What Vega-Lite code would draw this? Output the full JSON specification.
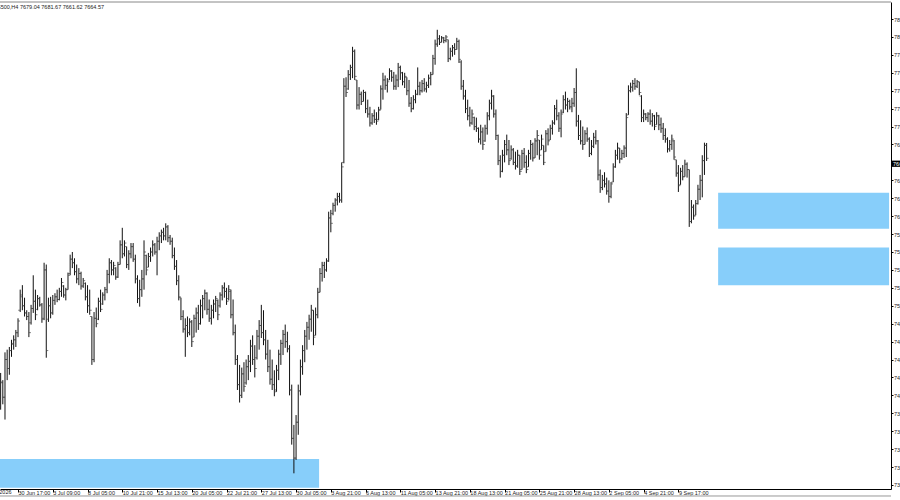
{
"$schema":"https://vega.github.io/schema/vega-lite/v6.json",
"width":891,"height":487,
"autosize":{"type":"none"},
"padding":{"left":0,"top":2,"right":9,"bottom":11},
"background":"white",
"title":{"text":"US500,H4 7679.04 7681.67 7661.62 7664.57","anchor":"start","frame":"group","orient":"top","offset":-9,"dx":-7,"fontSize":5.5,"fontWeight":"normal","color":"#222","font":"Liberation Sans"},
"config":{"view":{"stroke":null},"font":"Liberation Sans",
 "axis":{"labelOverlap":false,"labelBound":false,"labelFlush":false,"grid":false,"title":null,"domainColor":"#000","domainWidth":1,"tickColor":"#000","tickSize":3,"labelFontSize":5.5,"labelColor":"#222","labelFont":"Liberation Sans"}},
"datasets":{
"zones":[{"x1":-0.3,"x2":146.6,"y1":7329,"y2":7297},{"x1":330.3,"x2":409.0,"y1":7626,"y2":7586},{"x1":330.3,"x2":409.0,"y1":7565,"y2":7523}],
"bars":[
{"i":0,"o":7395,"h":7425,"l":7384,"c":7415},{"i":1,"o":7414,"h":7417,"l":7390,"c":7398},{"i":2,"o":7398,"h":7448,"l":7373,"c":7440},{"i":3,"o":7440,"h":7451,"l":7417,"c":7430},{"i":4,"o":7430,"h":7454,"l":7423,"c":7450},{"i":5,"o":7450,"h":7462,"l":7443,"c":7458},{"i":6,"o":7457,"h":7467,"l":7451,"c":7462},{"i":7,"o":7462,"h":7473,"l":7454,"c":7470},{"i":8,"o":7470,"h":7486,"l":7465,"c":7483},{"i":9,"o":7495,"h":7518,"l":7493,"c":7512},
{"i":10,"o":7510,"h":7523,"l":7495,"c":7500},{"i":11,"o":7500,"h":7509,"l":7488,"c":7492},{"i":12,"o":7492,"h":7495,"l":7484,"c":7488},{"i":13,"o":7488,"h":7493,"l":7465,"c":7470},{"i":14,"o":7481,"h":7501,"l":7479,"c":7497},{"i":15,"o":7497,"h":7534,"l":7492,"c":7505},{"i":16,"o":7505,"h":7518,"l":7484,"c":7490},{"i":17,"o":7496,"h":7512,"l":7495,"c":7508},{"i":18,"o":7508,"h":7510,"l":7499,"c":7501},{"i":19,"o":7501,"h":7503,"l":7481,"c":7485},
{"i":20,"o":7486,"h":7548,"l":7484,"c":7540},{"i":21,"o":7540,"h":7546,"l":7442,"c":7450},{"i":22,"o":7485,"h":7509,"l":7482,"c":7500},{"i":23,"o":7500,"h":7510,"l":7486,"c":7492},{"i":24,"o":7492,"h":7512,"l":7490,"c":7506},{"i":25,"o":7506,"h":7514,"l":7501,"c":7510},{"i":26,"o":7510,"h":7518,"l":7504,"c":7507},{"i":27,"o":7507,"h":7520,"l":7506,"c":7516},{"i":28,"o":7516,"h":7531,"l":7510,"c":7526},{"i":29,"o":7522,"h":7523,"l":7509,"c":7512},
{"i":30,"o":7512,"h":7520,"l":7506,"c":7518},{"i":31,"o":7518,"h":7537,"l":7518,"c":7534},{"i":32,"o":7536,"h":7557,"l":7534,"c":7552},{"i":33,"o":7552,"h":7560,"l":7542,"c":7548},{"i":34,"o":7548,"h":7553,"l":7534,"c":7538},{"i":35,"o":7538,"h":7546,"l":7525,"c":7530},{"i":36,"o":7530,"h":7542,"l":7523,"c":7536},{"i":37,"o":7536,"h":7538,"l":7518,"c":7522},{"i":38,"o":7522,"h":7531,"l":7520,"c":7528},{"i":39,"o":7525,"h":7526,"l":7506,"c":7510},
{"i":40,"o":7510,"h":7523,"l":7492,"c":7500},{"i":41,"o":7500,"h":7518,"l":7490,"c":7495},{"i":42,"o":7488,"h":7488,"l":7434,"c":7440},{"i":43,"o":7440,"h":7493,"l":7437,"c":7486},{"i":44,"o":7486,"h":7498,"l":7476,"c":7480},{"i":45,"o":7485,"h":7509,"l":7484,"c":7505},{"i":46,"o":7505,"h":7518,"l":7493,"c":7496},{"i":47,"o":7502,"h":7515,"l":7501,"c":7512},{"i":48,"o":7512,"h":7521,"l":7506,"c":7518},{"i":49,"o":7518,"h":7540,"l":7514,"c":7535},
{"i":50,"o":7535,"h":7553,"l":7525,"c":7548},{"i":51,"o":7548,"h":7551,"l":7534,"c":7540},{"i":52,"o":7540,"h":7549,"l":7534,"c":7545},{"i":53,"o":7542,"h":7543,"l":7529,"c":7532},{"i":54,"o":7532,"h":7549,"l":7531,"c":7546},{"i":55,"o":7546,"h":7573,"l":7546,"c":7568},{"i":56,"o":7568,"h":7587,"l":7553,"c":7558},{"i":57,"o":7558,"h":7573,"l":7555,"c":7570},{"i":58,"o":7566,"h":7566,"l":7542,"c":7546},{"i":59,"o":7546,"h":7562,"l":7540,"c":7558},
{"i":60,"o":7558,"h":7570,"l":7553,"c":7566},{"i":61,"o":7566,"h":7570,"l":7549,"c":7552},{"i":62,"o":7552,"h":7557,"l":7525,"c":7530},{"i":63,"o":7530,"h":7534,"l":7503,"c":7508},{"i":64,"o":7508,"h":7529,"l":7499,"c":7518},{"i":65,"o":7518,"h":7540,"l":7510,"c":7530},{"i":66,"o":7530,"h":7573,"l":7518,"c":7560},{"i":67,"o":7556,"h":7557,"l":7534,"c":7540},{"i":68,"o":7543,"h":7559,"l":7543,"c":7555},{"i":69,"o":7555,"h":7565,"l":7549,"c":7560},
{"i":70,"o":7560,"h":7573,"l":7555,"c":7568},{"i":71,"o":7568,"h":7570,"l":7557,"c":7560},{"i":72,"o":7560,"h":7577,"l":7534,"c":7572},{"i":73,"o":7572,"h":7582,"l":7562,"c":7578},{"i":74,"o":7578,"h":7585,"l":7570,"c":7582},{"i":75,"o":7582,"h":7587,"l":7573,"c":7578},{"i":76,"o":7578,"h":7592,"l":7573,"c":7588},{"i":77,"o":7588,"h":7590,"l":7571,"c":7576},{"i":78,"o":7576,"h":7579,"l":7568,"c":7572},{"i":79,"o":7572,"h":7576,"l":7553,"c":7556},
{"i":80,"o":7556,"h":7565,"l":7540,"c":7544},{"i":81,"o":7544,"h":7551,"l":7523,"c":7528},{"i":82,"o":7528,"h":7534,"l":7506,"c":7510},{"i":83,"o":7509,"h":7509,"l":7484,"c":7488},{"i":84,"o":7488,"h":7495,"l":7470,"c":7474},{"i":85,"o":7474,"h":7486,"l":7443,"c":7478},{"i":86,"o":7478,"h":7488,"l":7465,"c":7470},{"i":87,"o":7470,"h":7486,"l":7467,"c":7482},{"i":88,"o":7482,"h":7484,"l":7454,"c":7460},{"i":89,"o":7465,"h":7490,"l":7465,"c":7486},
{"i":90,"o":7486,"h":7498,"l":7470,"c":7492},{"i":91,"o":7492,"h":7501,"l":7473,"c":7480},{"i":92,"o":7480,"h":7507,"l":7479,"c":7500},{"i":93,"o":7500,"h":7512,"l":7486,"c":7508},{"i":94,"o":7508,"h":7518,"l":7495,"c":7514},{"i":95,"o":7514,"h":7515,"l":7490,"c":7496},{"i":96,"o":7496,"h":7507,"l":7482,"c":7486},{"i":97,"o":7486,"h":7501,"l":7479,"c":7495},{"i":98,"o":7495,"h":7507,"l":7486,"c":7502},{"i":99,"o":7502,"h":7511,"l":7493,"c":7508},
{"i":100,"o":7506,"h":7507,"l":7484,"c":7490},{"i":101,"o":7500,"h":7515,"l":7498,"c":7512},{"i":102,"o":7512,"h":7523,"l":7506,"c":7520},{"i":103,"o":7520,"h":7526,"l":7509,"c":7516},{"i":104,"o":7516,"h":7520,"l":7501,"c":7505},{"i":105,"o":7508,"h":7523,"l":7506,"c":7518},{"i":106,"o":7516,"h":7518,"l":7486,"c":7490},{"i":107,"o":7490,"h":7507,"l":7467,"c":7470},{"i":108,"o":7470,"h":7479,"l":7434,"c":7440},{"i":109,"o":7440,"h":7445,"l":7406,"c":7412},
{"i":110,"o":7412,"h":7434,"l":7392,"c":7400},{"i":111,"o":7400,"h":7431,"l":7397,"c":7424},{"i":112,"o":7424,"h":7437,"l":7404,"c":7410},{"i":113,"o":7414,"h":7440,"l":7412,"c":7432},{"i":114,"o":7432,"h":7445,"l":7417,"c":7438},{"i":115,"o":7438,"h":7462,"l":7426,"c":7455},{"i":116,"o":7455,"h":7467,"l":7434,"c":7440},{"i":117,"o":7440,"h":7456,"l":7420,"c":7430},{"i":118,"o":7442,"h":7473,"l":7440,"c":7466},{"i":119,"o":7466,"h":7484,"l":7451,"c":7478},
{"i":120,"o":7478,"h":7501,"l":7464,"c":7470},{"i":121,"o":7470,"h":7495,"l":7456,"c":7462},{"i":122,"o":7462,"h":7473,"l":7440,"c":7446},{"i":123,"o":7446,"h":7462,"l":7426,"c":7432},{"i":124,"o":7432,"h":7451,"l":7412,"c":7418},{"i":125,"o":7418,"h":7440,"l":7406,"c":7412},{"i":126,"o":7412,"h":7428,"l":7399,"c":7404},{"i":127,"o":7406,"h":7434,"l":7404,"c":7428},{"i":128,"o":7428,"h":7451,"l":7417,"c":7446},{"i":129,"o":7446,"h":7462,"l":7434,"c":7458},
{"i":130,"o":7458,"h":7473,"l":7445,"c":7468},{"i":131,"o":7468,"h":7479,"l":7453,"c":7460},{"i":132,"o":7460,"h":7471,"l":7448,"c":7452},{"i":133,"o":7452,"h":7456,"l":7400,"c":7406},{"i":134,"o":7406,"h":7412,"l":7345,"c":7352},{"i":135,"o":7352,"h":7367,"l":7313,"c":7330},{"i":136,"o":7330,"h":7378,"l":7328,"c":7370},{"i":137,"o":7370,"h":7412,"l":7356,"c":7405},{"i":138,"o":7405,"h":7440,"l":7400,"c":7432},{"i":139,"o":7432,"h":7456,"l":7423,"c":7450},
{"i":140,"o":7450,"h":7473,"l":7437,"c":7466},{"i":141,"o":7466,"h":7482,"l":7451,"c":7476},{"i":142,"o":7476,"h":7490,"l":7462,"c":7485},{"i":143,"o":7485,"h":7501,"l":7471,"c":7495},{"i":144,"o":7495,"h":7495,"l":7456,"c":7465},{"i":145,"o":7467,"h":7498,"l":7467,"c":7490},{"i":146,"o":7490,"h":7520,"l":7486,"c":7515},{"i":147,"o":7515,"h":7542,"l":7515,"c":7536},{"i":148,"o":7536,"h":7549,"l":7527,"c":7545},{"i":149,"o":7545,"h":7549,"l":7531,"c":7540},
{"i":150,"o":7540,"h":7553,"l":7538,"c":7550},{"i":151,"o":7550,"h":7605,"l":7549,"c":7598},{"i":152,"o":7598,"h":7607,"l":7582,"c":7592},{"i":153,"o":7603,"h":7615,"l":7601,"c":7612},{"i":154,"o":7612,"h":7620,"l":7605,"c":7618},{"i":155,"o":7618,"h":7626,"l":7612,"c":7622},{"i":156,"o":7622,"h":7626,"l":7615,"c":7618},{"i":157,"o":7618,"h":7660,"l":7615,"c":7655},{"i":158,"o":7660,"h":7754,"l":7659,"c":7745},{"i":159,"o":7745,"h":7755,"l":7733,"c":7738},
{"i":160,"o":7742,"h":7763,"l":7741,"c":7758},{"i":161,"o":7758,"h":7769,"l":7752,"c":7766},{"i":162,"o":7766,"h":7789,"l":7754,"c":7784},{"i":163,"o":7784,"h":7786,"l":7752,"c":7756},{"i":164,"o":7752,"h":7752,"l":7719,"c":7724},{"i":165,"o":7724,"h":7744,"l":7719,"c":7736},{"i":166,"o":7736,"h":7739,"l":7724,"c":7728},{"i":167,"o":7728,"h":7741,"l":7728,"c":7738},{"i":168,"o":7738,"h":7739,"l":7715,"c":7720},{"i":169,"o":7720,"h":7730,"l":7710,"c":7714},
{"i":170,"o":7714,"h":7722,"l":7700,"c":7704},{"i":171,"o":7704,"h":7715,"l":7702,"c":7712},{"i":172,"o":7712,"h":7719,"l":7704,"c":7708},{"i":173,"o":7708,"h":7716,"l":7702,"c":7706},{"i":174,"o":7708,"h":7722,"l":7707,"c":7718},{"i":175,"o":7719,"h":7746,"l":7719,"c":7742},{"i":176,"o":7742,"h":7760,"l":7730,"c":7752},{"i":177,"o":7752,"h":7757,"l":7741,"c":7746},{"i":178,"o":7746,"h":7754,"l":7738,"c":7750},{"i":179,"o":7752,"h":7765,"l":7752,"c":7762},
{"i":180,"o":7762,"h":7763,"l":7750,"c":7755},{"i":181,"o":7755,"h":7761,"l":7741,"c":7745},{"i":182,"o":7745,"h":7758,"l":7741,"c":7752},{"i":183,"o":7752,"h":7771,"l":7744,"c":7766},{"i":184,"o":7766,"h":7768,"l":7752,"c":7760},{"i":185,"o":7760,"h":7761,"l":7746,"c":7750},{"i":186,"o":7750,"h":7760,"l":7743,"c":7756},{"i":187,"o":7755,"h":7755,"l":7735,"c":7740},{"i":188,"o":7740,"h":7752,"l":7722,"c":7726},{"i":189,"o":7726,"h":7733,"l":7716,"c":7720},
{"i":190,"o":7720,"h":7735,"l":7719,"c":7730},{"i":191,"o":7730,"h":7741,"l":7726,"c":7736},{"i":192,"o":7736,"h":7766,"l":7735,"c":7745},{"i":193,"o":7745,"h":7750,"l":7735,"c":7740},{"i":194,"o":7740,"h":7752,"l":7738,"c":7748},{"i":195,"o":7748,"h":7754,"l":7739,"c":7742},{"i":196,"o":7742,"h":7750,"l":7738,"c":7746},{"i":197,"o":7746,"h":7758,"l":7743,"c":7754},{"i":198,"o":7754,"h":7761,"l":7746,"c":7758},{"i":199,"o":7758,"h":7780,"l":7758,"c":7776},
{"i":200,"o":7776,"h":7797,"l":7769,"c":7792},{"i":201,"o":7792,"h":7808,"l":7789,"c":7798},{"i":202,"o":7798,"h":7802,"l":7791,"c":7794},{"i":203,"o":7794,"h":7801,"l":7794,"c":7799},{"i":204,"o":7799,"h":7800,"l":7793,"c":7796},{"i":205,"o":7796,"h":7802,"l":7794,"c":7800},{"i":206,"o":7797,"h":7797,"l":7772,"c":7776},{"i":207,"o":7776,"h":7788,"l":7774,"c":7784},{"i":208,"o":7784,"h":7791,"l":7778,"c":7788},{"i":209,"o":7788,"h":7793,"l":7780,"c":7786},
{"i":210,"o":7786,"h":7799,"l":7786,"c":7795},{"i":211,"o":7795,"h":7797,"l":7771,"c":7775},{"i":212,"o":7772,"h":7774,"l":7741,"c":7745},{"i":213,"o":7745,"h":7752,"l":7730,"c":7734},{"i":214,"o":7734,"h":7741,"l":7715,"c":7720},{"i":215,"o":7720,"h":7730,"l":7707,"c":7712},{"i":216,"o":7712,"h":7722,"l":7700,"c":7704},{"i":217,"o":7704,"h":7719,"l":7702,"c":7714},{"i":218,"o":7710,"h":7711,"l":7696,"c":7700},{"i":219,"o":7700,"h":7710,"l":7694,"c":7698},
{"i":220,"o":7698,"h":7699,"l":7682,"c":7686},{"i":221,"o":7686,"h":7702,"l":7680,"c":7694},{"i":222,"o":7694,"h":7699,"l":7674,"c":7680},{"i":223,"o":7684,"h":7702,"l":7683,"c":7698},{"i":224,"o":7698,"h":7716,"l":7691,"c":7712},{"i":225,"o":7712,"h":7730,"l":7707,"c":7726},{"i":226,"o":7726,"h":7741,"l":7719,"c":7734},{"i":227,"o":7734,"h":7735,"l":7710,"c":7714},{"i":228,"o":7714,"h":7719,"l":7685,"c":7690},{"i":229,"o":7690,"h":7691,"l":7657,"c":7662},
{"i":230,"o":7662,"h":7668,"l":7643,"c":7650},{"i":231,"o":7650,"h":7674,"l":7649,"c":7668},{"i":232,"o":7668,"h":7685,"l":7660,"c":7680},{"i":233,"o":7680,"h":7691,"l":7668,"c":7674},{"i":234,"o":7674,"h":7685,"l":7657,"c":7662},{"i":235,"o":7664,"h":7679,"l":7663,"c":7674},{"i":236,"o":7674,"h":7676,"l":7657,"c":7660},{"i":237,"o":7660,"h":7672,"l":7652,"c":7656},{"i":238,"o":7656,"h":7674,"l":7654,"c":7668},{"i":239,"o":7668,"h":7668,"l":7646,"c":7650},
{"i":240,"o":7652,"h":7674,"l":7652,"c":7670},{"i":241,"o":7670,"h":7676,"l":7654,"c":7660},{"i":242,"o":7660,"h":7668,"l":7648,"c":7652},{"i":243,"o":7655,"h":7674,"l":7655,"c":7670},{"i":244,"o":7670,"h":7685,"l":7663,"c":7680},{"i":245,"o":7680,"h":7682,"l":7661,"c":7665},{"i":246,"o":7665,"h":7687,"l":7665,"c":7684},{"i":247,"o":7684,"h":7696,"l":7668,"c":7690},{"i":248,"o":7685,"h":7685,"l":7663,"c":7668},{"i":249,"o":7674,"h":7691,"l":7674,"c":7686},
{"i":250,"o":7679,"h":7679,"l":7657,"c":7660},{"i":251,"o":7672,"h":7696,"l":7672,"c":7692},{"i":252,"o":7692,"h":7698,"l":7679,"c":7684},{"i":253,"o":7685,"h":7702,"l":7685,"c":7698},{"i":254,"o":7698,"h":7707,"l":7691,"c":7704},{"i":255,"o":7704,"h":7724,"l":7702,"c":7720},{"i":256,"o":7720,"h":7730,"l":7707,"c":7712},{"i":257,"o":7712,"h":7716,"l":7694,"c":7698},{"i":258,"o":7698,"h":7719,"l":7688,"c":7714},{"i":259,"o":7716,"h":7735,"l":7715,"c":7730},
{"i":260,"o":7730,"h":7739,"l":7719,"c":7724},{"i":261,"o":7724,"h":7732,"l":7716,"c":7728},{"i":262,"o":7728,"h":7730,"l":7719,"c":7722},{"i":263,"o":7722,"h":7732,"l":7716,"c":7726},{"i":264,"o":7726,"h":7743,"l":7722,"c":7738},{"i":265,"o":7738,"h":7765,"l":7700,"c":7706},{"i":266,"o":7706,"h":7713,"l":7685,"c":7690},{"i":267,"o":7690,"h":7707,"l":7680,"c":7684},{"i":268,"o":7684,"h":7700,"l":7674,"c":7680},{"i":269,"o":7680,"h":7696,"l":7680,"c":7692},
{"i":270,"o":7692,"h":7699,"l":7683,"c":7686},{"i":271,"o":7686,"h":7688,"l":7666,"c":7670},{"i":272,"o":7670,"h":7685,"l":7668,"c":7678},{"i":273,"o":7678,"h":7693,"l":7676,"c":7688},{"i":274,"o":7688,"h":7696,"l":7680,"c":7684},{"i":275,"o":7684,"h":7685,"l":7640,"c":7646},{"i":276,"o":7646,"h":7652,"l":7626,"c":7632},{"i":277,"o":7632,"h":7646,"l":7629,"c":7640},{"i":278,"o":7640,"h":7649,"l":7632,"c":7636},{"i":279,"o":7636,"h":7643,"l":7624,"c":7628},
{"i":280,"o":7628,"h":7640,"l":7615,"c":7622},{"i":281,"o":7622,"h":7638,"l":7620,"c":7636},{"i":282,"o":7638,"h":7659,"l":7638,"c":7655},{"i":283,"o":7655,"h":7674,"l":7654,"c":7668},{"i":284,"o":7668,"h":7682,"l":7663,"c":7676},{"i":285,"o":7676,"h":7676,"l":7659,"c":7664},{"i":286,"o":7664,"h":7674,"l":7663,"c":7670},{"i":287,"o":7670,"h":7679,"l":7665,"c":7676},{"i":288,"o":7676,"h":7715,"l":7666,"c":7710},{"i":289,"o":7713,"h":7746,"l":7713,"c":7740},
{"i":290,"o":7740,"h":7749,"l":7738,"c":7744},{"i":291,"o":7744,"h":7752,"l":7739,"c":7748},{"i":292,"o":7748,"h":7754,"l":7741,"c":7745},{"i":293,"o":7745,"h":7752,"l":7743,"c":7750},{"i":294,"o":7750,"h":7750,"l":7735,"c":7738},{"i":295,"o":7734,"h":7735,"l":7705,"c":7710},{"i":296,"o":7710,"h":7719,"l":7705,"c":7714},{"i":297,"o":7714,"h":7715,"l":7707,"c":7710},{"i":298,"o":7710,"h":7716,"l":7705,"c":7714},{"i":299,"o":7714,"h":7719,"l":7702,"c":7706},
{"i":300,"o":7706,"h":7715,"l":7700,"c":7712},{"i":301,"o":7712,"h":7713,"l":7696,"c":7700},{"i":302,"o":7702,"h":7716,"l":7702,"c":7712},{"i":303,"o":7712,"h":7713,"l":7696,"c":7702},{"i":304,"o":7702,"h":7710,"l":7693,"c":7698},{"i":305,"o":7698,"h":7704,"l":7685,"c":7690},{"i":306,"o":7690,"h":7698,"l":7682,"c":7686},{"i":307,"o":7686,"h":7688,"l":7671,"c":7675},{"i":308,"o":7675,"h":7685,"l":7672,"c":7680},{"i":309,"o":7680,"h":7691,"l":7674,"c":7686},
{"i":310,"o":7684,"h":7685,"l":7663,"c":7666},{"i":311,"o":7663,"h":7663,"l":7644,"c":7648},{"i":312,"o":7648,"h":7657,"l":7627,"c":7634},{"i":313,"o":7635,"h":7654,"l":7635,"c":7650},{"i":314,"o":7650,"h":7657,"l":7640,"c":7644},{"i":315,"o":7644,"h":7663,"l":7644,"c":7658},{"i":316,"o":7658,"h":7660,"l":7643,"c":7652},{"i":317,"o":7652,"h":7652,"l":7588,"c":7594},{"i":318,"o":7594,"h":7618,"l":7592,"c":7610},{"i":319,"o":7610,"h":7613,"l":7596,"c":7600},
{"i":320,"o":7601,"h":7618,"l":7601,"c":7614},{"i":321,"o":7614,"h":7635,"l":7613,"c":7630},{"i":322,"o":7630,"h":7646,"l":7618,"c":7640},{"i":323,"o":7640,"h":7668,"l":7621,"c":7662},{"i":324,"o":7662,"h":7682,"l":7646,"c":7679},{"i":325,"o":7679.04,"h":7681.67,"l":7661.62,"c":7664.57}
]},
"layer":[
{"data":{"name":"zones"},"mark":{"type":"rect","color":"#87CEFA"},
 "encoding":{
  "x":{"field":"x1","type":"quantitative","title":null,"scale":{"domain":[-0.3,409.88],"nice":false,"zero":false},
   "axis":{"orient":"bottom","tickCount":40,"values":[8,24,40,56,72,88,104,120,136,152,168,184,200,216,232,248,264,280,296,312],
    "labelExpr":"datum.value==8?'30 Jun 17:00':datum.value==24?'3 Jul 09:00':datum.value==40?'8 Jul 05:00':datum.value==56?'10 Jul 21:00':datum.value==72?'15 Jul 13:00':datum.value==88?'20 Jul 05:00':datum.value==104?'22 Jul 21:00':datum.value==120?'27 Jul 13:00':datum.value==136?'30 Jul 05:00':datum.value==152?'3 Aug 21:00':datum.value==168?'6 Aug 13:00':datum.value==184?'11 Aug 05:00':datum.value==200?'13 Aug 21:00':datum.value==216?'18 Aug 13:00':datum.value==232?'21 Aug 05:00':datum.value==248?'25 Aug 21:00':datum.value==264?'28 Aug 13:00':datum.value==280?'2 Sep 05:00':datum.value==296?'4 Sep 21:00':'9 Sep 17:00'",
    "labelAlign":"left","labelBaseline":"top","labelPadding":-2,"labelDx":2,"labelOverlap":false}},
  "x2":{"field":"x2"},
  "y":{"field":"y1","type":"quantitative","title":null,"scale":{"domain":[7295.5,7839],"nice":false,"zero":false},
   "axis":{"orient":"right","tickCount":40,"tickSize":2,"values":[7300,7320,7340,7360,7380,7400,7420,7440,7460,7480,7500,7520,7540,7560,7580,7600,7620,7640,7660,7680,7700,7720,7740,7760,7780,7800,7820],"format":".2f","labelPadding":0.5,"labelOverlap":false}},
  "y2":{"field":"y2"}}},
{"data":{"name":"bars"},"mark":{"type":"rule","color":"#111","strokeWidth":1},
 "encoding":{"x":{"field":"i","type":"quantitative","title":null},"y":{"field":"l","type":"quantitative","title":null},"y2":{"field":"h"}}},
{"data":{"name":"bars"},"mark":{"type":"tick","orient":"horizontal","size":2,"thickness":1,"xOffset":-1,"color":"#444"},
 "encoding":{"x":{"field":"i","type":"quantitative","title":null},"y":{"field":"o","type":"quantitative","title":null}}},
{"data":{"name":"bars"},"mark":{"type":"tick","orient":"horizontal","size":2,"thickness":1,"xOffset":1,"color":"#444"},
 "encoding":{"x":{"field":"i","type":"quantitative","title":null},"y":{"field":"c","type":"quantitative","title":null}}},
{"data":{"values":[{"p":7839}]},"mark":{"type":"rule","color":"#888","strokeWidth":1},"encoding":{"y":{"field":"p","type":"quantitative","title":null}}},
{"data":{"values":[{"p":7287.7}]},"mark":{"type":"rule","color":"#999","strokeWidth":1},"encoding":{"y":{"field":"p","type":"quantitative","title":null}}},
{"data":{"values":[{"j":-8,"p":7295.5,"t":"26 Jun 2026"}]},"mark":{"type":"text","color":"#222","align":"left","baseline":"top","dx":-2,"dy":1,"fontSize":5.5,"font":"Liberation Sans"},"encoding":{"x":{"field":"j","type":"quantitative","title":null},"y":{"field":"p","type":"quantitative","title":null},"text":{"field":"t"}}},
{"data":{"values":[{"j1":409.9,"j2":420,"p1":7662,"p2":7655,"pm":7658.5,"t":"7664.57"}]},"layer":[
 {"mark":{"type":"rect","color":"#000"},"encoding":{"x":{"field":"j1","type":"quantitative","title":null},"x2":{"field":"j2"},"y":{"field":"p1","type":"quantitative","title":null},"y2":{"field":"p2"}}},
 {"mark":{"type":"text","color":"#fff","align":"left","baseline":"middle","dx":2,"fontSize":5.5,"font":"Liberation Sans"},"encoding":{"x":{"field":"j1","type":"quantitative","title":null},"y":{"field":"pm","type":"quantitative","title":null},"text":{"field":"t"}}}
]}
]
}
